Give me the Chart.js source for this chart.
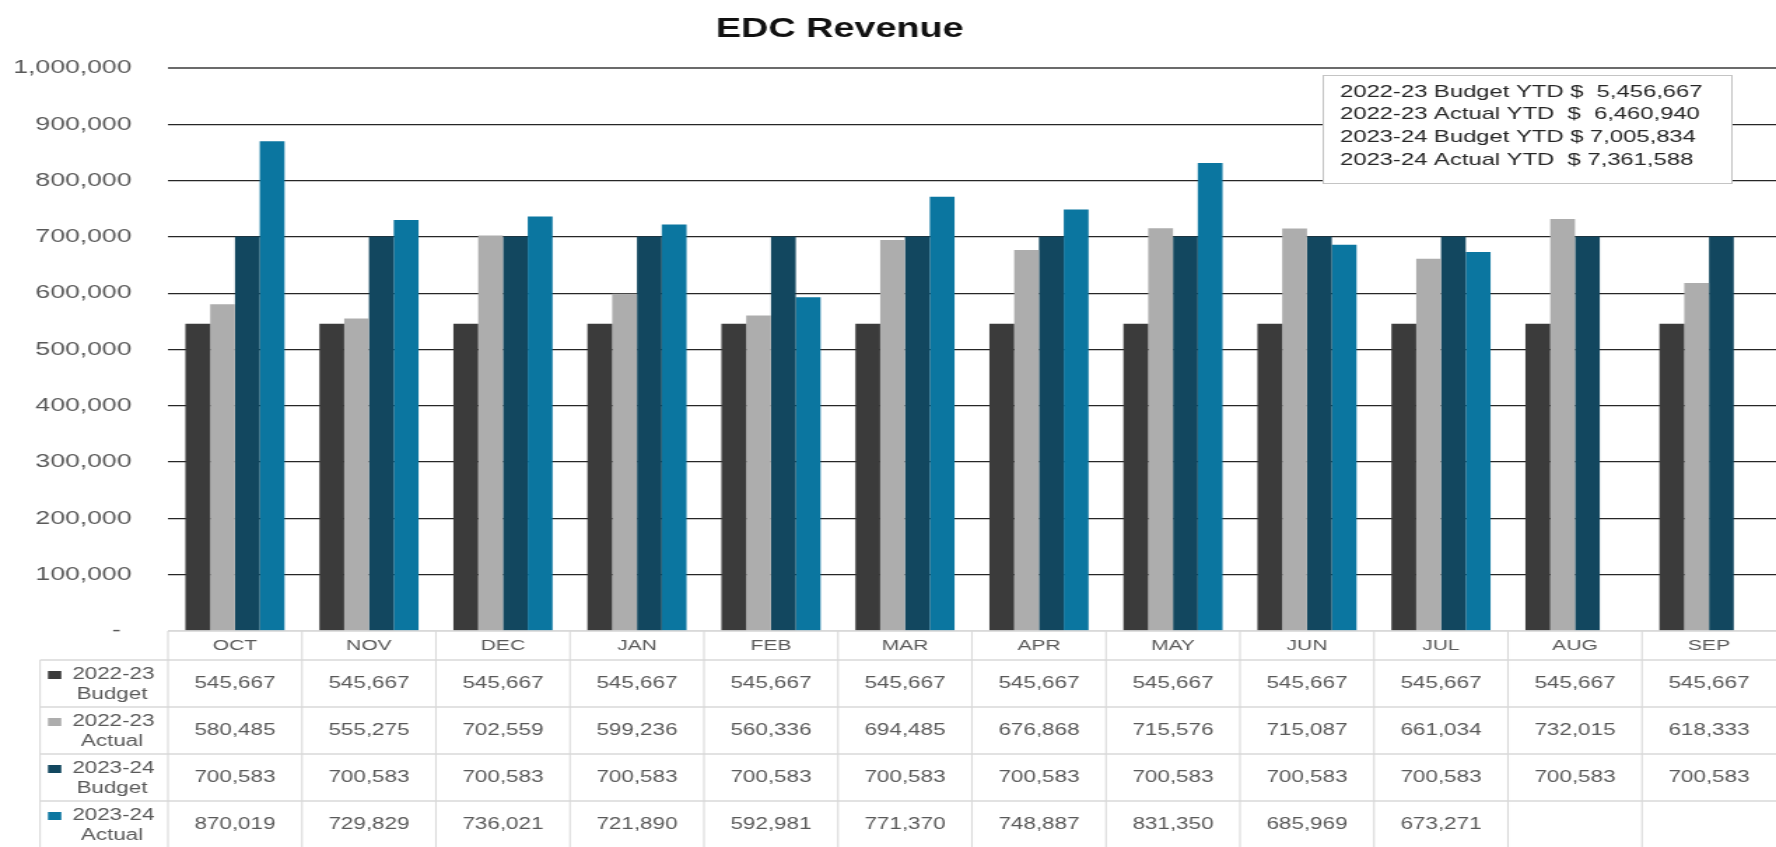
<!DOCTYPE html>
<html>
<head>
<meta charset="utf-8">
<title>EDC Revenue</title>
<script src="https://cdn.jsdelivr.net/npm/chart.js@4.4.1/dist/chart.umd.min.js"></script>
<style>
  html, body { margin: 0; padding: 0; background: #fff; overflow: hidden; }
  /* the reference is stretched sideways, so the canvas is drawn narrow and shown wide */
  #chart { display: block; width: 1776px !important; height: 847px !important; }
</style>
</head>
<body>
<canvas id="chart" width="1269" height="847"></canvas>
<script>
// ----- data -----
const months = ['OCT', 'NOV', 'DEC', 'JAN', 'FEB', 'MAR', 'APR', 'MAY', 'JUN', 'JUL', 'AUG', 'SEP'];

const budget2223 = [545667, 545667, 545667, 545667, 545667, 545667, 545667, 545667, 545667, 545667, 545667, 545667];
const actual2223 = [580485, 555275, 702559, 599236, 560336, 694485, 676868, 715576, 715087, 661034, 732015, 618333];
const budget2324 = [700583, 700583, 700583, 700583, 700583, 700583, 700583, 700583, 700583, 700583, 700583, 700583];
const actual2324 = [870019, 729829, 736021, 721890, 592981, 771370, 748887, 831350, 685969, 673271, null, null];

const seriesNames = [['2022-23', 'Budget'], ['2022-23', 'Actual'], ['2023-24', 'Budget'], ['2023-24', 'Actual']];
const seriesColors = ['#3b3b3b', '#adadad', '#12475f', '#0b76a0'];

const ytdLines = [
  '2022-23 Budget YTD $  5,456,667',
  '2022-23 Actual YTD  $  6,460,940',
  '2023-24 Budget YTD $ 7,005,834',
  '2023-24 Actual YTD  $ 7,361,588'
];

const yTicks = { min: 0, max: 1000000, step: 100000 };

const FONT = '"Liberation Sans", Arial, sans-serif';
const TEXT_GRAY = '#595959';

// ----- title -----
const titlePlugin = {
  id: 'edcTitle',
  afterDraw(chart) {
    const ctx = chart.ctx;
    ctx.save();
    ctx.fillStyle = '#111';
    ctx.font = 'bold 27px ' + FONT;
    ctx.textAlign = 'center';
    ctx.textBaseline = 'middle';
    ctx.fillText('EDC Revenue', 600, 30);
    ctx.restore();
  }
};

// ----- YTD text box -----
const ytdPlugin = {
  id: 'ytdBox',
  afterDatasetsDraw(chart) {
    const ctx = chart.ctx;
    const x0 = 945, y0 = 75, w = 292, h = 108;
    ctx.save();
    ctx.fillStyle = '#fff';
    ctx.fillRect(x0, y0, w, h);
    ctx.strokeStyle = '#c4c4c4';
    ctx.lineWidth = 1;
    ctx.strokeRect(x0 + 0.5, y0 + 0.5, w, h);
    ctx.fillStyle = '#262626';
    ctx.font = '17px ' + FONT;
    ctx.textAlign = 'left';
    ctx.textBaseline = 'middle';
    ytdLines.forEach((line, i) => {
      ctx.fillText(line, 957.5, 92 + i * 22.7);
    });
    ctx.restore();
  }
};

// ----- data table under the plot -----
const tablePlugin = {
  id: 'dataTable',
  afterDraw(chart) {
    const { ctx, chartArea, scales } = chart;
    const x = scales.x;
    const colW = (chartArea.right - chartArea.left) / months.length;
    const top = chartArea.bottom;
    const headerH = 29;
    const rowH = 47;
    const legendLeft = 28.6;
    const bottom = chart.height;
    const rows = [budget2223, actual2223, budget2324, actual2324];

    ctx.save();
    ctx.strokeStyle = '#d9d9d9';

    // horizontal lines
    ctx.lineWidth = 1.5;
    ctx.beginPath();
    ctx.moveTo(chartArea.left, top);
    ctx.lineTo(chartArea.right, top);
    for (let r = 0; r < rows.length; r++) {
      const yy = top + headerH + r * rowH;
      ctx.moveTo(legendLeft, yy);
      ctx.lineTo(chartArea.right, yy);
    }
    ctx.stroke();

    // vertical lines
    ctx.lineWidth = 1.1;
    ctx.beginPath();
    for (let i = 0; i < months.length; i++) {
      const xx = chartArea.left + i * colW;
      ctx.moveTo(xx, top);
      ctx.lineTo(xx, bottom);
    }
    ctx.moveTo(legendLeft, top + headerH);
    ctx.lineTo(legendLeft, bottom);
    ctx.stroke();

    ctx.textAlign = 'center';
    ctx.textBaseline = 'middle';
    ctx.fillStyle = TEXT_GRAY;

    // month header
    ctx.font = '15px ' + FONT;
    months.forEach((m, i) => {
      ctx.fillText(m, x.getPixelForValue(i), top + headerH / 2 + 0.5);
    });

    // values
    ctx.font = '16px ' + FONT;
    rows.forEach((vals, r) => {
      const cy = top + headerH + r * rowH + rowH / 2;
      vals.forEach((v, i) => {
        if (v === null) return;
        ctx.fillText(v.toLocaleString('en-US'), x.getPixelForValue(i), cy);
      });
    });

    // legend cells
    seriesNames.forEach((name, r) => {
      const rowTop = top + headerH + r * rowH;
      ctx.fillStyle = seriesColors[r];
      ctx.fillRect(34.3, rowTop + 11, 9.5, 8);
      ctx.fillStyle = TEXT_GRAY;
      ctx.fillText(name[0], 81, rowTop + 15);
      ctx.fillText(name[1], 80, rowTop + 35);
    });

    ctx.restore();
  }
};

// ----- chart -----
function makeDataset(label, data, color) {
  return { label, data, backgroundColor: color, borderWidth: 0 };
}

new Chart(document.getElementById('chart'), {
  type: 'bar',
  data: {
    labels: months,
    datasets: [
      makeDataset('2022-23 Budget', budget2223, seriesColors[0]),
      makeDataset('2022-23 Actual', actual2223, seriesColors[1]),
      makeDataset('2023-24 Budget', budget2324, seriesColors[2]),
      makeDataset('2023-24 Actual', actual2324, seriesColors[3])
    ]
  },
  options: {
    responsive: false,
    animation: false,
    devicePixelRatio: 1,
    layout: { padding: { top: 68, bottom: 216, left: 0, right: 0 } },
    datasets: { bar: { categoryPercentage: 0.74, barPercentage: 1.0 } },
    plugins: {
      legend: { display: false },
      title: { display: false },
      tooltip: { enabled: false }
    },
    scales: {
      x: { display: false },
      y: {
        min: yTicks.min,
        max: yTicks.max,
        afterFit(axis) { axis.width = 120; },
        border: { display: false },
        grid: {
          drawTicks: false,
          color: c => {
            const v = c.tick ? c.tick.value : null;
            if (v === 0) return '#d9d9d9';
            if (v === yTicks.max) return '#6b6b6b';
            return '#262626';
          },
          lineWidth: c => (c.tick && c.tick.value === yTicks.max ? 2 : 1.2)
        },
        ticks: {
          stepSize: yTicks.step,
          padding: 26,
          color: TEXT_GRAY,
          font: { family: FONT, size: 19 },
          callback: v => (v === 0 ? '-\u2009\u2009' : v.toLocaleString('en-US'))
        }
      }
    }
  },
  plugins: [titlePlugin, ytdPlugin, tablePlugin]
});
</script>
</body>
</html>
